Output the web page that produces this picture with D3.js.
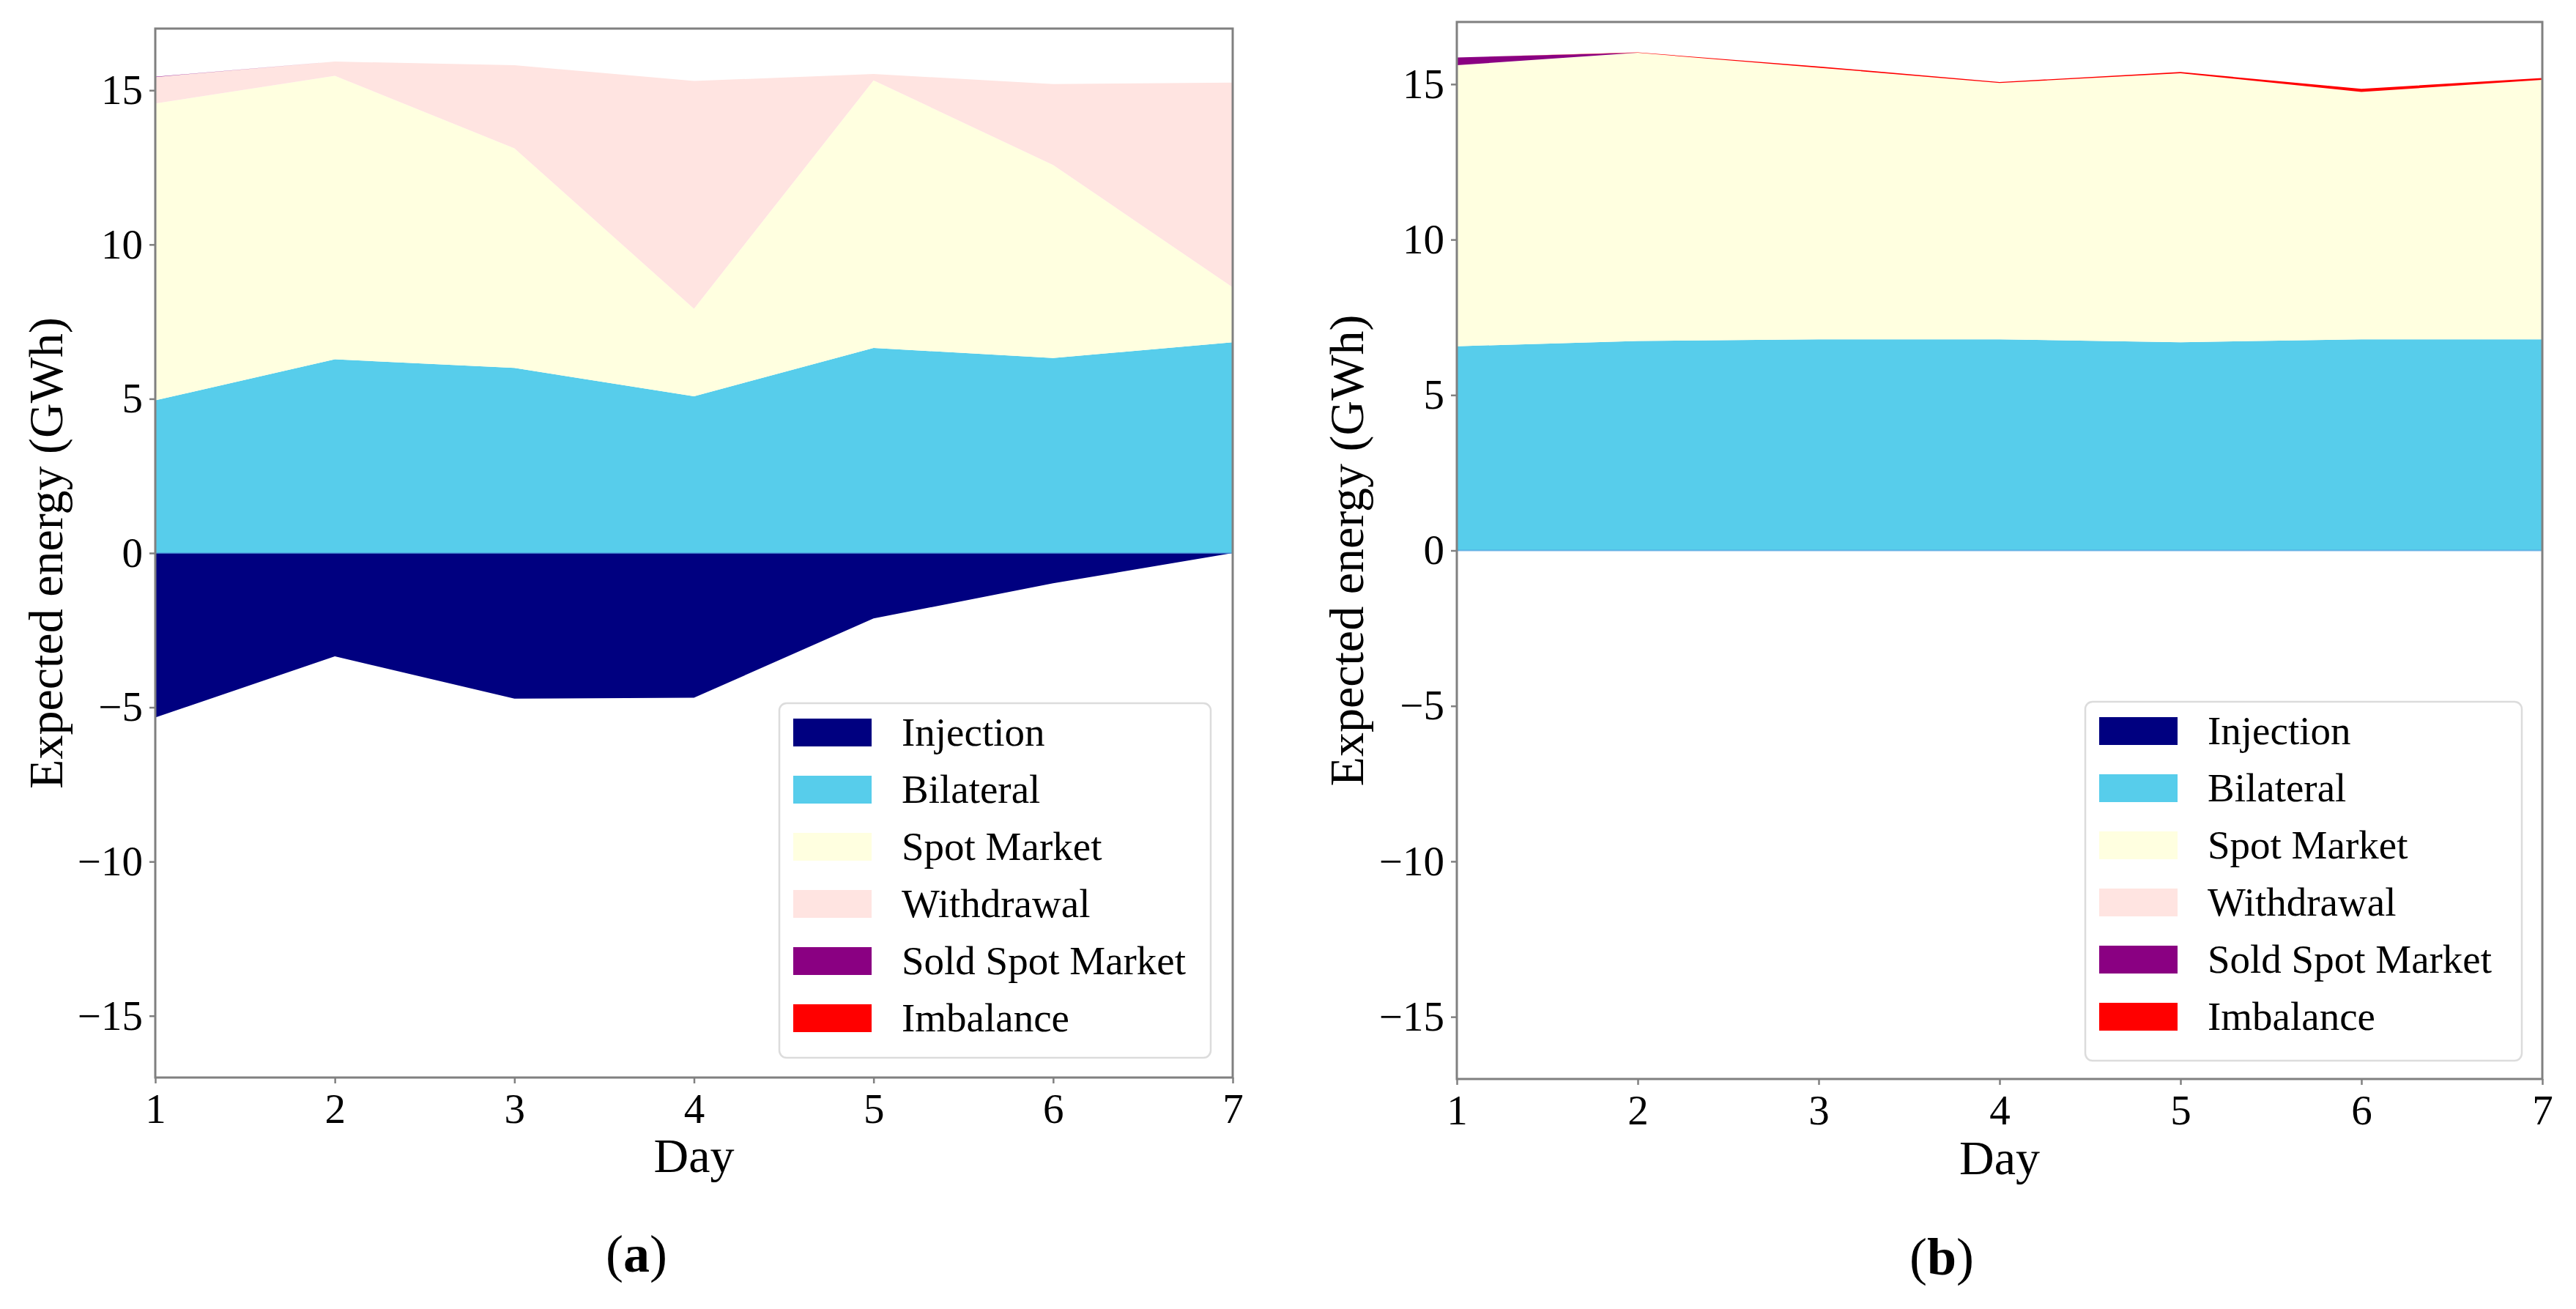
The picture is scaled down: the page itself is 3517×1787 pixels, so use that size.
<!DOCTYPE html>
<html>
<head>
<meta charset="utf-8">
<script src="https://cdn.jsdelivr.net/npm/d3@7"></script>
<style>
  html, body { margin: 0; padding: 0; background: #fff; }
  svg { display: block; }
</style>
</head>
<body>
<svg id="chart" width="3517" height="1787"></svg>
<script>
const days = [1, 2, 3, 4, 5, 6, 7];
const seriesNames = ['Injection', 'Bilateral', 'Spot Market', 'Withdrawal', 'Sold Spot Market', 'Imbalance'];
const seriesColors = ['#000080', '#57cdeb', '#ffffe0', '#ffe4e1', '#8a0082', '#ff0000'];
const yTicks = [-15, -10, -5, 0, 5, 10, 15];

// panel (a)
const injectionA = [-5.33, -3.35, -4.72, -4.69, -2.12, -0.98, 0];
const bilateralA = [4.95, 6.28, 6.0, 5.08, 6.65, 6.32, 6.83];
const spotA = [9.62, 9.19, 7.12, 2.84, 8.67, 6.26, 1.78];
const withdrawalA = [0.86, 0.46, 2.69, 7.38, 0.21, 2.62, 6.64];
const soldSpotA = [0.01, 0, 0, 0, 0, 0, 0];
const imbalanceA = [0, 0, 0, 0, 0, 0, 0];

// panel (b)
const injectionB = [0, 0, 0, 0, 0, 0, 0];
const bilateralB = [6.57, 6.74, 6.79, 6.79, 6.70, 6.79, 6.79];
const spotB = [9.04, 9.27, 8.74, 8.25, 8.65, 7.96, 8.35];
const withdrawalB = [0, 0, 0, 0, 0, 0, 0];
const soldSpotB = [0.25, 0, 0, 0, 0, 0, 0];
const imbalanceB = [0, 0.01, 0.04, 0.03, 0.04, 0.1, 0.06];

const FONT = "'Liberation Serif', 'Times New Roman', serif";
const svg = d3.select('#chart');

function drawPanel(p) {
  const rows = days.map((d, i) => {
    const r = { day: d };
    seriesNames.forEach((name, k) => { r[name] = p.series[k][i]; });
    return r;
  });
  const x = d3.scaleLinear().domain([1, 7]).range([p.left, p.right]);
  const y = d3.scaleLinear().domain([-17, 17]).range([p.bottom, p.top]);

  // injection goes below zero, the rest stack upwards from zero
  const positive = d3.stack().keys(seriesNames.slice(1))(rows);
  const area = d3.area().x(d => x(d.data.day)).y0(d => y(d[0])).y1(d => y(d[1]));

  const g = svg.append('g');
  g.append('path')
    .datum(rows)
    .attr('d', d3.area().x(d => x(d.day)).y0(y(0)).y1(d => y(d.Injection)))
    .attr('fill', seriesColors[0]);
  g.selectAll('path.layer').data(positive).join('path')
    .attr('class', 'layer')
    .attr('d', area)
    .attr('fill', (d, i) => seriesColors[i + 1]);
  // thin edge of the zero-height injection layer
  g.append('line')
    .attr('x1', x(1)).attr('x2', x(7)).attr('y1', y(0)).attr('y2', y(0))
    .attr('stroke', '#4f9fe0').attr('stroke-width', 2).attr('stroke-opacity', 0.7);

  const yAxis = g.append('g').attr('transform', `translate(${p.left},0)`)
    .call(d3.axisLeft(y).tickValues(yTicks).tickSize(8).tickPadding(9).tickFormat(d => d < 0 ? '\u2212' + Math.abs(d) : d));
  const xAxis = g.append('g').attr('transform', `translate(0,${p.bottom})`)
    .call(d3.axisBottom(x).tickValues(days).tickSize(8).tickPadding(10).tickFormat(d3.format('d')));
  [yAxis, xAxis].forEach(ax => {
    ax.select('.domain').remove();
    ax.selectAll('line').attr('stroke', '#808080').attr('stroke-width', 2.5);
    ax.selectAll('text').attr('font-family', FONT).attr('font-size', 57).attr('fill', '#000');
  });
  xAxis.selectAll('text').attr('dy', '0.78em');

  g.append('rect')
    .attr('x', p.left).attr('y', p.top)
    .attr('width', p.right - p.left).attr('height', p.bottom - p.top)
    .attr('fill', 'none').attr('stroke', '#808080').attr('stroke-width', 3);

  g.append('text')
    .attr('transform', `translate(${p.ylabelX},${(p.top + p.bottom) / 2}) rotate(-90)`)
    .attr('text-anchor', 'middle').attr('dy', '0.33em')
    .attr('font-family', FONT).attr('font-size', 66)
    .text('Expected energy (GWh)');

  g.append('text')
    .attr('x', (p.left + p.right) / 2).attr('y', p.dayY)
    .attr('text-anchor', 'middle')
    .attr('font-family', FONT).attr('font-size', 66)
    .text('Day');

  const cap = g.append('text')
    .attr('x', p.capX).attr('y', p.capY)
    .attr('text-anchor', 'middle')
    .attr('font-family', FONT).attr('font-size', 72);
  cap.append('tspan').text('(');
  cap.append('tspan').attr('font-weight', 'bold').text(p.letter);
  cap.append('tspan').text(')');

  // legend
  const lg = g.append('g');
  lg.append('rect')
    .attr('x', p.legX).attr('y', p.legY)
    .attr('width', p.legW).attr('height', p.legH)
    .attr('rx', 10).attr('ry', 10)
    .attr('fill', '#fff').attr('fill-opacity', 0.8)
    .attr('stroke', '#dcdcdc').attr('stroke-width', 2.5);
  seriesNames.forEach((name, i) => {
    const cy = p.legY + 40 + i * 78;
    lg.append('rect')
      .attr('x', p.legX + 19).attr('y', cy - 19)
      .attr('width', 107).attr('height', 38)
      .attr('fill', seriesColors[i]);
    lg.append('text')
      .attr('x', p.legX + 167).attr('y', cy).attr('dy', '0.33em')
      .attr('font-family', FONT).attr('font-size', 55)
      .text(name);
  });
}

drawPanel({
  left: 212, right: 1683, top: 39, bottom: 1471,
  series: [injectionA, bilateralA, spotA, withdrawalA, soldSpotA, imbalanceA],
  ylabelX: 63, dayY: 1600, capX: 869, capY: 1736, letter: 'a',
  legX: 1064, legY: 960, legW: 589, legH: 484
});

drawPanel({
  left: 1989, right: 3471, top: 30, bottom: 1473,
  series: [injectionB, bilateralB, spotB, withdrawalB, soldSpotB, imbalanceB],
  ylabelX: 1839, dayY: 1603, capX: 2651, capY: 1740, letter: 'b',
  legX: 2847, legY: 958, legW: 596, legH: 490
});
</script>
</body>
</html>
